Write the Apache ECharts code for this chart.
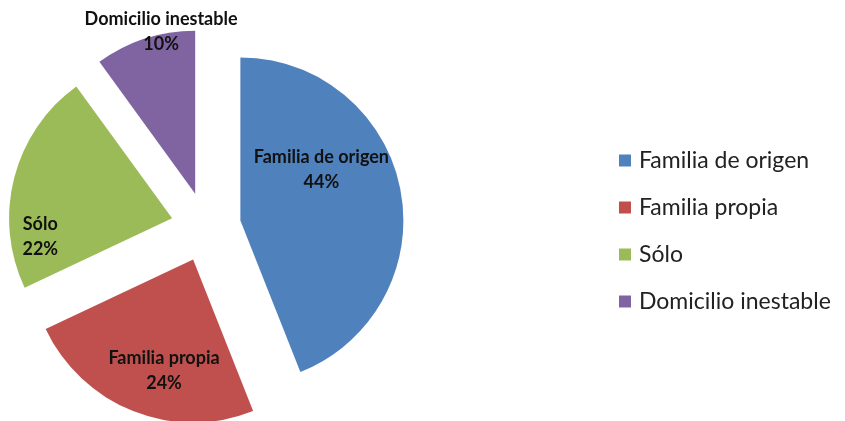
<!DOCTYPE html>
<html>
<head>
<meta charset="utf-8">
<script src="https://cdn.jsdelivr.net/npm/echarts@6/dist/echarts.min.js"></script>
<style>
html, body { margin: 0; padding: 0; background: #fff; }
#main { width: 845px; height: 421px; }
</style>
</head>
<body>
<div id="main"></div>
<script>
// datos del grafico
var categorias = ['Familia de origen', 'Familia propia', 'Sólo', 'Domicilio inestable'];
var valores = [44, 24, 22, 10];
var colores = ['#4F81BD', '#C0504D', '#9BBB59', '#8064A2'];
// desplazamiento de cada etiqueta respecto a su posicion interior
var etiquetaDx = [-2, 2, -50, -8];
var etiquetaDy = [-35, 33, 39, -82];

var datos = [];
for (var i = 0; i < categorias.length; i++) {
    datos.push({
        name: categorias[i],
        value: valores[i],
        selected: true,
        itemStyle: { color: colores[i] }
    });
}

var myChart = echarts.init(document.getElementById('main'));
var option = {
    animation: false,
    backgroundColor: '#fff',
    legend: {
        orient: 'vertical',
        left: 614,
        top: 144,
        itemWidth: 12,
        itemHeight: 12,
        itemGap: 24,
        icon: 'rect',
        selectedMode: false,
        data: categorias,
        textStyle: {
            fontFamily: 'Lato',
            fontSize: 23,
            color: '#222',
            padding: [0, 0, 0, 3]
        }
    },
    series: [
        {
            type: 'pie',
            center: [206, 227],
            radius: 163,
            startAngle: 90,
            clockwise: true,
            selectedMode: 'multiple',
            selectedOffset: 35,
            emphasis: { disabled: true },
            label: {
                show: true,
                position: 'inside',
                formatter: function (p) { return p.name + '\n' + p.value + '%'; },
                fontFamily: 'Lato',
                fontWeight: 'bold',
                fontSize: 18,
                lineHeight: 25,
                color: '#111'
            },
            labelLine: { show: false },
            labelLayout: function (params) {
                return { dx: etiquetaDx[params.dataIndex], dy: etiquetaDy[params.dataIndex] };
            },
            data: datos
        }
    ]
};
myChart.setOption(option);
</script>
</body>
</html>
